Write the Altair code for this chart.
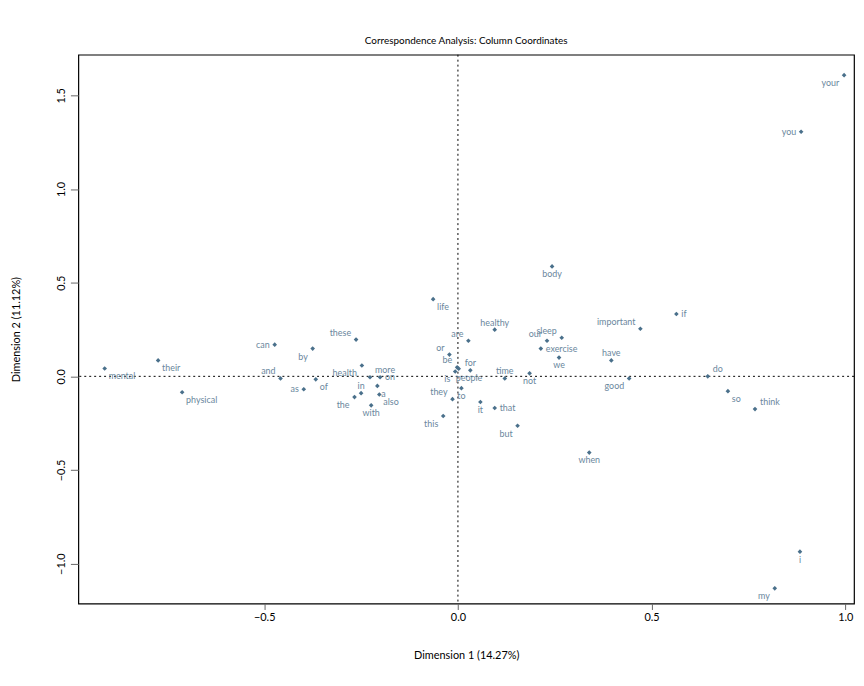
import altair as alt
import pandas as pd

words = ["mental", "their", "physical", "can", "and", "by", "these", "as", "of",
         "health", "more", "on", "a", "in", "the", "also", "with", "life", "or",
         "be", "people", "is", "for", "are", "they", "to", "this", "it", "that",
         "but", "healthy", "time", "not", "our", "sleep", "exercise", "we", "body",
         "important", "if", "have", "good", "do", "so", "think", "when", "you",
         "your", "i", "my"]
dim1 = [-0.912, -0.774, -0.712, -0.473, -0.458, -0.375, -0.263, -0.398, -0.367,
        -0.248, -0.227, -0.201, -0.208, -0.250, -0.267, -0.203, -0.224, -0.064, -0.022,
        -0.002, 0.002, -0.007, 0.032, 0.027, -0.014, 0.009, -0.038, 0.058, 0.095,
        0.154, 0.095, 0.121, 0.185, 0.230, 0.268, 0.214, 0.261, 0.243,
        0.471, 0.564, 0.396, 0.442, 0.645, 0.697, 0.767, 0.339, 0.886,
        0.997, 0.883, 0.818]
dim2 = [0.042, 0.085, -0.085, 0.169, -0.011, 0.148, 0.196, -0.069, -0.016,
        0.058, -0.005, -0.005, -0.051, -0.090, -0.111, -0.097, -0.155, 0.412, 0.116,
        0.048, 0.041, 0.026, 0.032, 0.190, -0.122, -0.063, -0.212, -0.137, -0.169,
        -0.264, 0.249, -0.011, 0.016, 0.190, 0.206, 0.148, 0.100, 0.587,
        0.254, 0.333, 0.085, -0.011, 0.000, -0.079, -0.175, -0.407, 1.306,
        1.608, -0.936, -1.132]
label_pos = ["rb", "rb", "rb", "l", "lt", "lb", "lt", "l", "rb",
             "lb", "rt", "r", "rb", "t", "lb", "rb", "b", "rb", "lt",
             "lt", "br", "lb", "t", "lt", "lt", "b", "lb", "b", "r",
             "lb", "t", "t", "b", "lt", "lt", "r", "b", "b",
             "lt", "r", "t", "lb", "rt", "rb", "rt", "b", "l",
             "lb", "b", "lb"]

x_ticks = [-0.5, 0.0, 0.5, 1.0]
y_ticks = [-1.0, -0.5, 0.0, 0.5, 1.0, 1.5]

df = pd.DataFrame({"word": words, "dim1": dim1, "dim2": dim2, "pos": label_pos})
zero = pd.DataFrame({"v": [0.0]})

FONT = "Lato"
PT = "#4A708B"
TXT = "#6a879d"

xscale = alt.Scale(domain=[-0.980, 1.0226], nice=False, zero=False)
yscale = alt.Scale(domain=[-1.213, 1.717], nice=False, zero=False)

xaxis = alt.Axis(title="Dimension 1 (14.27%)", values=x_ticks, format=".1f",
                 grid=False, domain=False, tickColor="#666", tickSize=6,
                 labelPadding=2, labelFont=FONT, labelFontSize=11, labelColor="black",
                 titleFont=FONT, titleFontSize=11, titleFontWeight="normal",
                 titleY=52, titleBaseline="middle", titleColor="black")
yaxis = alt.Axis(title="Dimension 2 (11.12%)", values=y_ticks, format=".1f",
                 grid=False, domain=False, tickColor="#666", tickSize=8,
                 labelPadding=4, labelFont=FONT, labelFontSize=11, labelColor="black",
                 labelAngle=-90, labelAlign="center", labelBaseline="bottom",
                 titleFont=FONT, titleFontSize=11, titleFontWeight="normal",
                 titleX=-62, titleBaseline="middle", titleAlign="center", titleColor="black")

base = alt.Chart(df)

points = base.mark_point(shape="diamond", filled=True, size=22, color=PT, opacity=1).encode(
    x=alt.X("dim1:Q", scale=xscale, axis=xaxis),
    y=alt.Y("dim2:Q", scale=yscale, axis=yaxis),
)

vline = alt.Chart(zero).mark_rule(color="black", strokeDash=[2, 3], strokeWidth=1).encode(
    x=alt.X("v:Q", scale=xscale))
hline = alt.Chart(zero).mark_rule(color="black", strokeDash=[2, 3], strokeWidth=1).encode(
    y=alt.Y("v:Q", scale=yscale))

offsets = {
    "r": ("left", 5, 0),
    "rb": ("left", 4, 8),
    "rt": ("left", 5, -7),
    "br": ("left", -3, 9),
    "l": ("right", -5, 0),
    "lb": ("right", -5, 8),
    "lt": ("right", -5, -7),
    "b": ("center", 0, 8),
    "t": ("center", 0, -7),
}

text_layers = []
for code, (al, dx, dy) in offsets.items():
    text_layers.append(
        base.transform_filter(alt.datum.pos == code).mark_text(
            align=al, baseline="middle", dx=dx, dy=dy, font=FONT, fontSize=9, color=TXT
        ).encode(
            x=alt.X("dim1:Q", scale=xscale),
            y=alt.Y("dim2:Q", scale=yscale),
            text="word:N",
        )
    )

chart = alt.layer(vline, hline, points, *text_layers).properties(
    width=783, height=554,
    title=alt.TitleParams("Correspondence Analysis: Column Coordinates", font=FONT,
                          fontSize=10, fontWeight="normal", anchor="middle", offset=8,
                          color="black"),
    autosize=alt.AutoSizeParams(type="none"),
    padding={"left": 71, "top": 44, "right": 2, "bottom": 72},
).configure_view(stroke="black", strokeWidth=1.2)

chart.save("out.html", embed_options={"renderer": "svg", "actions": False})
